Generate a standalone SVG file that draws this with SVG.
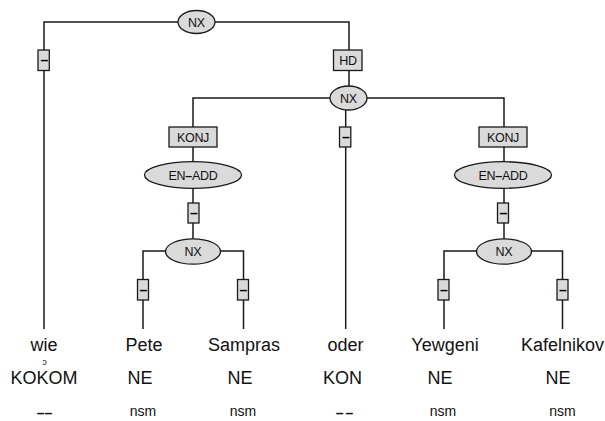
<svg xmlns="http://www.w3.org/2000/svg" width="605" height="421" viewBox="0 0 605 421">
<style>
.e{stroke:#1a1a1a;stroke-width:1.5;fill:none}
.n{fill:#dadada;stroke:#1a1a1a;stroke-width:1.3}
.t{font-family:"Liberation Sans",Arial,sans-serif;font-size:12.5px;fill:#111;text-anchor:middle;letter-spacing:-0.3px}
.d{font-family:"Liberation Sans",Arial,sans-serif;font-size:14px;font-weight:bold;fill:#000;text-anchor:middle}
.w{font-family:"Liberation Sans",Arial,sans-serif;font-size:18px;fill:#111;text-anchor:middle}
.s{font-family:"Liberation Sans",Arial,sans-serif;font-size:14px;fill:#111;text-anchor:middle}
</style>
<rect width="605" height="421" fill="#fff"/>
<g id="connectors">
<path class="e" d="M44,329 V22 H349 V98"/>
<path class="e" d="M193,239 V98 H504 V239"/>
<path class="e" d="M345.7,108 V329"/>
<path class="e" d="M143,329 V251 H243.5 V329"/>
<path class="e" d="M444,329 V251 H562.5 V329"/>
</g>
<g id="nx-top"><ellipse class="n" cx="196.5" cy="22" rx="18.5" ry="11.5"/><text class="t" x="196.5" y="26.5">NX</text></g>
<g id="dash-wie"><rect class="n" x="38" y="50" width="11.3" height="20.5"/><text class="d" x="44.3" y="65">–</text></g>
<g id="hd"><rect class="n" x="333.5" y="50" width="28.5" height="20.5"/><text class="t" x="348" y="65">HD</text></g>
<g id="nx-mid"><ellipse class="n" cx="348.5" cy="98" rx="18.5" ry="12"/><text class="t" x="348.5" y="102.5">NX</text></g>
<g id="konj-left"><rect class="n" x="169" y="127" width="48" height="20"/><text class="t" x="193" y="141.5">KONJ</text></g>
<g id="dash-oder"><rect class="n" x="339.5" y="127" width="11.3" height="20"/><text class="d" x="346" y="142">–</text></g>
<g id="konj-right"><rect class="n" x="479" y="127" width="48" height="20"/><text class="t" x="503" y="141.5">KONJ</text></g>
<g id="enadd-left"><ellipse class="n" cx="193" cy="175" rx="48.5" ry="13.3"/><text class="t" x="193" y="179.5">EN<tspan font-weight="bold">–</tspan>ADD</text></g>
<g id="enadd-right"><ellipse class="n" cx="503" cy="175" rx="48.5" ry="13.3"/><text class="t" x="503" y="179.5">EN<tspan font-weight="bold">–</tspan>ADD</text></g>
<g id="dash-left"><rect class="n" x="188" y="203" width="11" height="20"/><text class="d" x="193.8" y="218">–</text></g>
<g id="dash-right"><rect class="n" x="497.5" y="203" width="11" height="20"/><text class="d" x="503.3" y="218">–</text></g>
<g id="nx-left"><ellipse class="n" cx="193" cy="251.5" rx="27.5" ry="12.7"/><text class="t" x="193" y="256">NX</text></g>
<g id="nx-right"><ellipse class="n" cx="504" cy="251.5" rx="27.5" ry="12.7"/><text class="t" x="504" y="256">NX</text></g>
<g id="dash-pete"><rect class="n" x="137.5" y="279.5" width="11" height="20.5"/><text class="d" x="143.3" y="294.5">–</text></g>
<g id="dash-sampras"><rect class="n" x="237.5" y="279.5" width="11" height="20.5"/><text class="d" x="243.3" y="294.5">–</text></g>
<g id="dash-yewgeni"><rect class="n" x="438" y="279.5" width="11" height="20.5"/><text class="d" x="443.8" y="294.5">–</text></g>
<g id="dash-kafelnikov"><rect class="n" x="557" y="279.5" width="11" height="20.5"/><text class="d" x="562.8" y="294.5">–</text></g>
<g id="tok-wie">
<text class="w" x="44" y="351">wie</text>
<text class="s" x="44.5" y="364.5" style="font-size:9px">ɔ</text>
<text class="w" x="44" y="384">KOKOM</text>
<text class="s" x="44.5" y="418" style="font-weight:bold">––</text>
</g>
<g id="tok-pete"><text class="w" x="144" y="351">Pete</text><text class="w" x="140" y="384">NE</text><text class="s" x="143" y="416">nsm</text></g>
<g id="tok-sampras"><text class="w" x="244" y="351">Sampras</text><text class="w" x="240" y="384">NE</text><text class="s" x="243" y="416">nsm</text></g>
<g id="tok-oder"><text class="w" x="345.5" y="351">oder</text><text class="w" x="342.5" y="384">KON</text><text class="s" x="345.5" y="418" style="letter-spacing:2px;font-weight:bold">––</text></g>
<g id="tok-yewgeni"><text class="w" x="445" y="351">Yewgeni</text><text class="w" x="440" y="384">NE</text><text class="s" x="443" y="416">nsm</text></g>
<g id="tok-kafelnikov"><text class="w" x="562.5" y="351">Kafelnikov</text><text class="w" x="558" y="384">NE</text><text class="s" x="562.5" y="416">nsm</text></g>
</svg>
